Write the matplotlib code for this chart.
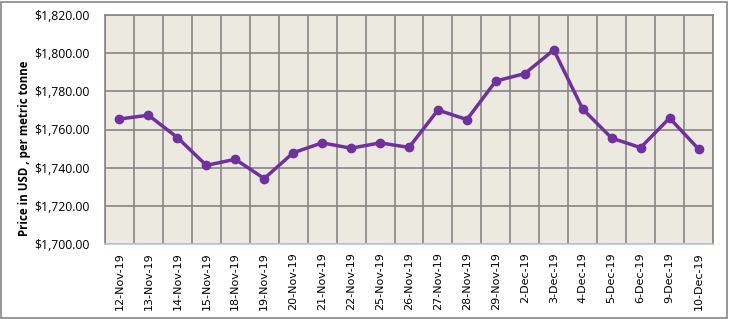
import matplotlib.pyplot as plt
from matplotlib.ticker import FuncFormatter, MultipleLocator
import matplotlib.patches as patches
import numpy as np

dates = ["12-Nov-19", "13-Nov-19", "14-Nov-19", "15-Nov-19", "18-Nov-19",
         "19-Nov-19", "20-Nov-19", "21-Nov-19", "22-Nov-19", "25-Nov-19",
         "26-Nov-19", "27-Nov-19", "28-Nov-19", "29-Nov-19", "2-Dec-19",
         "3-Dec-19", "4-Dec-19", "5-Dec-19", "6-Dec-19", "9-Dec-19",
         "10-Dec-19"]
prices = [1765.5, 1767.5, 1755.8, 1741.2, 1744.4, 1734.3, 1747.8, 1753.0,
          1750.2, 1753.0, 1750.6, 1770.2, 1765.2, 1785.4, 1789.3, 1801.7,
          1770.7, 1755.5, 1750.5, 1766.0, 1749.8]

fig = plt.figure(figsize=(7.29, 3.19), dpi=100)
W, H = 729, 319
ax = fig.add_axes([105/W, 1-244/H, 608/W, 229/H])

# outer frame of the chart
fig.patches.append(patches.Rectangle((1/W, 1/H), 726/W, 316/H, transform=fig.transFigure,
                                     fill=False, edgecolor="#868686", linewidth=1.2))

ax.set_facecolor("#ECEAE0")
x = np.arange(len(dates))
ax.plot(x, prices, color="#7030A0", linewidth=2.5, marker="o", markersize=6,
        markerfacecolor="#7030A0", markeredgecolor="#7030A0", zorder=3)

ax.set_xlim(-0.5, len(dates)-0.5)
ax.set_ylim(1700, 1820)
ax.yaxis.set_major_locator(MultipleLocator(20))
ax.yaxis.set_major_formatter(FuncFormatter(lambda v, p: "${:,.2f}".format(v)))
ax.set_xticks(x)
ax.set_xticklabels(dates, rotation=90, fontsize=8, family="DejaVu Sans")
ax.set_xticks(np.arange(len(dates)+1)-0.5, minor=True)
ax.grid(True, which="minor", axis="x", color="#868686", linewidth=1.2)
ax.grid(True, which="major", axis="y", color="#868686", linewidth=1.2)
ax.set_axisbelow(True)
ax.tick_params(axis="x", which="both", length=0, pad=6)
ax.tick_params(axis="y", length=0, pad=11, labelsize=8.8)
for lab in ax.get_yticklabels():
    lab.set_family("Open Sans")

for s in ["top", "right", "left"]:
    ax.spines[s].set_color("#868686")
    ax.spines[s].set_linewidth(1.2)
ax.spines["bottom"].set_color("#B9C8E8")
ax.spines["bottom"].set_linewidth(1.2)

ax.set_ylabel("Price in USD , per metric tonne", fontsize=8.3, fontweight="bold",
              family="Open Sans")
ax.yaxis.set_label_coords(-0.122, 0.42)

fig.savefig("out.png", dpi=100)
